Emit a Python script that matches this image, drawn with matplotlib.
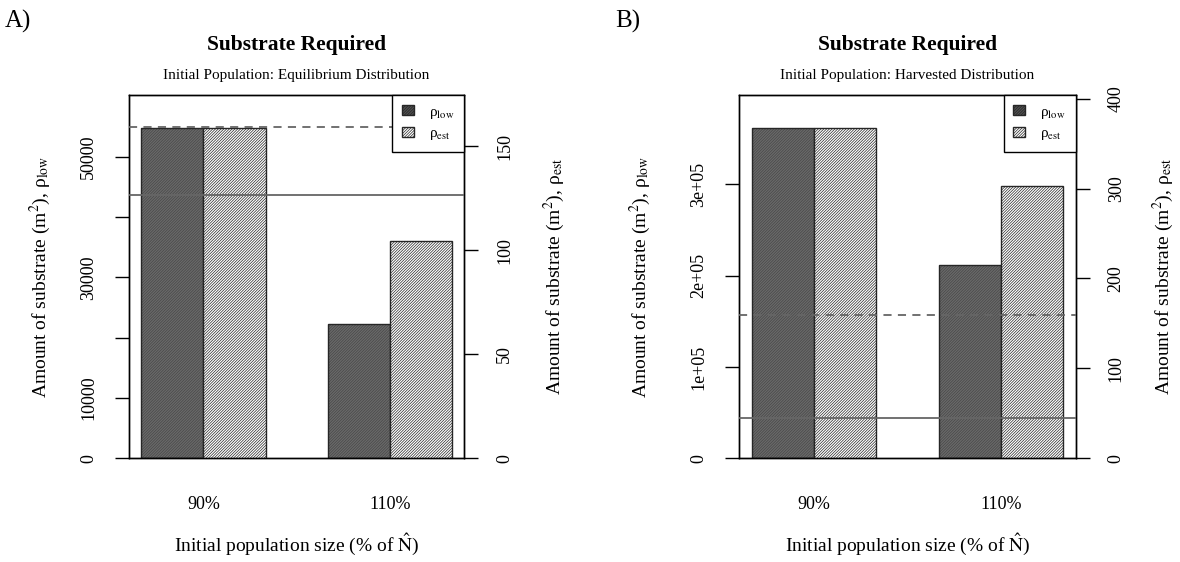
import numpy as np
import matplotlib
matplotlib.use("Agg")
import matplotlib.pyplot as plt
import matplotlib.transforms as mtransforms
from matplotlib.patches import Patch

plt.rcParams['font.family'] = ['Liberation Serif', 'DejaVu Serif']
plt.rcParams['mathtext.fontset'] = 'stix'
plt.rcParams['hatch.linewidth'] = 0.5

# data
groups = ['90%', '110%']
low_a = [54700, 22200]      # rho_low, equilibrium start (left axis)
est_a = [158.6, 104.5]      # rho_est, equilibrium start (right axis)
low_b = [361400, 211400]    # rho_low, harvested start
est_b = [367.0, 303.0]      # rho_est, harvested start
low_line = 43700            # solid reference line, left axis
est_line = 159              # dashed reference line, right axis

left_ticks_a = [0, 10000, 20000, 30000, 40000, 50000]
left_labels_a = ['0', '10000', '', '30000', '', '50000']
right_ticks_a = [0, 50, 100, 150]
left_ticks_b = [0, 100000, 200000, 300000]
left_labels_b = ['0', '1e+05', '2e+05', '3e+05']
right_ticks_b = [0, 100, 200, 300, 400]

subtitles = ['Initial Population: Equilibrium Distribution',
             'Initial Population: Harvested Distribution']

DARK = '#6a6a6a'
DARK_HATCH = '#474747'
EDGE = '#262626'
HATCH = '/' * 12


def draw_panel(fig, rect, low, est, lt, ll, rt, subtitle, tag, lab_l, lab_r):
    ax1 = fig.add_axes(rect)
    ax2 = ax1.twinx()

    # R barplot layout: bars of width 1, one bar gap between groups
    x_low = np.array([1.5, 4.5])
    x_est = x_low + 1
    # dark bars: grey hatch first, then black outline
    ax1.bar(x_low, low, width=1, facecolor=DARK, edgecolor=DARK_HATCH,
            hatch=HATCH, linewidth=0)
    ax1.bar(x_low, low, width=1, fill=False, edgecolor=EDGE, linewidth=1.0)
    ax2.bar(x_est, est, width=1, facecolor='white', edgecolor=EDGE,
            hatch=HATCH, linewidth=1.0)
    ax1.set_xlim(0.8, 6.2)
    ax1.set_ylim(0, max(low) * 1.1)
    ax2.set_ylim(0, max(est) * 1.1)

    # reference lines drawn on top of both sets of bars
    tr = mtransforms.blended_transform_factory(ax2.transAxes, ax1.transData)
    ax2.plot([0, 1], [low_line, low_line], color='#666666', lw=1.3,
             transform=tr, zorder=5)
    ax2.axhline(est_line, color='#666666', lw=1.3, ls=(0, (4.5, 3.5)),
                zorder=5)

    ax1.set_xticks([2, 5])
    ax1.set_xticklabels(groups)
    ax1.tick_params(axis='x', length=0, pad=27, labelsize=13)

    ax1.set_yticks(lt)
    ax1.set_yticklabels(ll)
    ax2.set_yticks(rt)
    ax2.set_yticklabels([str(t) for t in rt])
    for ax in (ax1, ax2):
        ax.tick_params(axis='y', length=10, width=1, pad=13, labelsize=13,
                       labelrotation=90)
        for lbl in ax.get_yticklabels():
            lbl.set_va('center')
        for sp in ax.spines.values():
            sp.set_color('black')
            sp.set_linewidth(1)

    ax1.set_xlabel(r'Initial population size (% of $\hat{\rm N}$)',
                   fontsize=14, labelpad=14)
    ax1.set_ylabel(r'Amount of substrate (m$^2$), ρ$_{\rm low}$',
                   fontsize=14, va='center')
    ax2.set_ylabel(r'Amount of substrate (m$^2$), ρ$_{\rm est}$',
                   fontsize=14, va='center')
    ax1.yaxis.set_label_coords(lab_l, 0.5)
    ax2.yaxis.set_label_coords(lab_r, 0.5)

    handles = [Patch(facecolor='#505050', edgecolor=EDGE, hatch=HATCH),
               Patch(facecolor='white', edgecolor=EDGE, hatch=HATCH)]
    leg = ax2.legend(handles, [r'ρ$_{\rm low}$', r'ρ$_{\rm est}$'],
                     loc='upper right', borderaxespad=0, fancybox=False,
                     framealpha=1, edgecolor='black', fontsize=11,
                     handlelength=0.75, handleheight=0.65, borderpad=0.65,
                     labelspacing=0.4, handletextpad=1.0)
    leg.get_frame().set_linewidth(1)
    leg.set_zorder(10)

    cx = rect[0] + rect[2] / 2
    fig.text(cx, 0.92, 'Substrate Required', ha='center', va='center',
             fontsize=15.5, fontweight='bold')
    fig.text(cx, 0.866, subtitle, ha='center', va='center', fontsize=11)
    fig.text(rect[0] - 0.105, 0.962, tag, ha='left', va='center', fontsize=18)


fig = plt.figure(figsize=(11.8, 5.62), dpi=100)
draw_panel(fig, [0.1093, 0.1845, 0.2842, 0.6459], low_a, est_a,
           left_ticks_a, left_labels_a, right_ticks_a, subtitles[0], 'A)',
           -0.265, 1.27)
draw_panel(fig, [0.6265, 0.1845, 0.2851, 0.6459], low_b, est_b,
           left_ticks_b, left_labels_b, right_ticks_b, subtitles[1], 'B)',
           -0.295, 1.26)

fig.savefig('out.png', dpi=100)
